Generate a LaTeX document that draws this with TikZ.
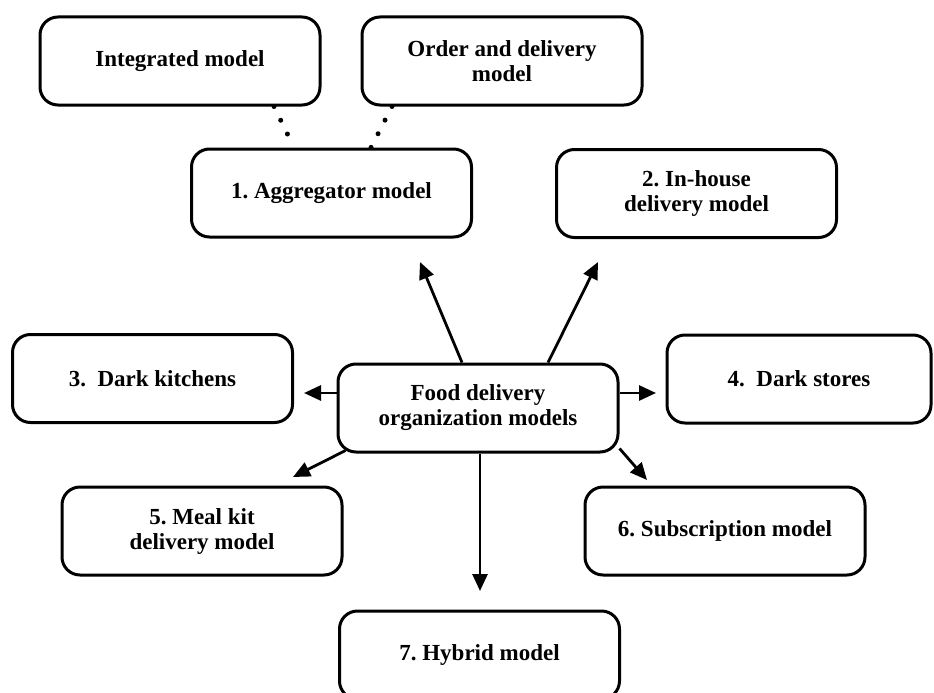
\documentclass[tikz,border=0pt]{standalone}
\usepackage{fontspec}
\setmainfont{Liberation Serif}
\usetikzlibrary{arrows.meta}

\begin{document}
\begin{tikzpicture}[x = 1pt, y = -1pt,
        model/.style = {draw, line width = 3pt, rounded corners = 18pt, minimum width = 280pt, minimum height = 88pt, inner sep = 0pt, align = center, font = \fontsize{23}{25}\selectfont\bfseries\frenchspacing},
        link/.style = {line width = 2.8pt, -{Triangle[length = 17pt, width = 15pt]}},
        dots/.style = {line width = 5pt, line cap = round, dash pattern = on 0pt off 15.3pt}]
    \clip (0,0) rectangle (934,693);
    % upper row
    \node [model] (Int) at (180,61) {Integrated model};
    \node [model] (Ord) at (502,61) {Order and delivery\\model};
    \node [model] (Agg) at (331.5,193) {1. Aggregator model};
    \node [model] (Hou) at (696.5,193.5) {2. In-house\\delivery model};
    % middle
    \node [model] (Ctr) at (478,408) {Food delivery\\organization models};
    \node [model] (Kit) at (152.5,378.5) {3.\enspace Dark kitchens};
    \node [model, minimum width = 264pt] (Sto) at (799,379) {4.\enspace Dark stores};
    % lower row
    \node [model] (Mea) at (202,531) {5. Meal kit\\delivery model};
    \node [model] (Sub) at (725,531) {6. Subscription model};
    \node [model] (Hyb) at (479.5,655) {7. Hybrid model};
    % free arrow ends
    \coordinate (tAgg) at (420,262);
    \coordinate (tHou) at (598,262);
    \coordinate (tKit) at (304,393);
    \coordinate (tSto) at (656,393);
    \coordinate (tMea) at (293,477);
    \coordinate (tSub) at (647,480);
    \coordinate (tHyb) at (480,591);
    \draw [dots] ([xshift = 94pt]Int.south) -- ([xshift = -37.5pt]Agg.north);
    \draw [dots] ([xshift = -110pt]Ord.south) -- ([xshift = 39.5pt]Agg.north);
    \draw [link] ([xshift = -16pt]Ctr.north) -- (tAgg);
    \draw [link] ([xshift = 70pt]Ctr.north) -- (tHou);
    \draw [link] ([yshift = 15pt]Ctr.west) -- (tKit);
    \draw [link] ([yshift = 15pt]Ctr.east) -- (tSto);
    \draw [link] ([xshift = 9pt, yshift = 3pt]Ctr.south west) -- (tMea);
    \draw [link] ([yshift = 5pt]Ctr.south east) -- (tSub);
    \draw [link] ([xshift = 2pt]Ctr.south) -- (tHyb);
\end{tikzpicture}
\end{document}
